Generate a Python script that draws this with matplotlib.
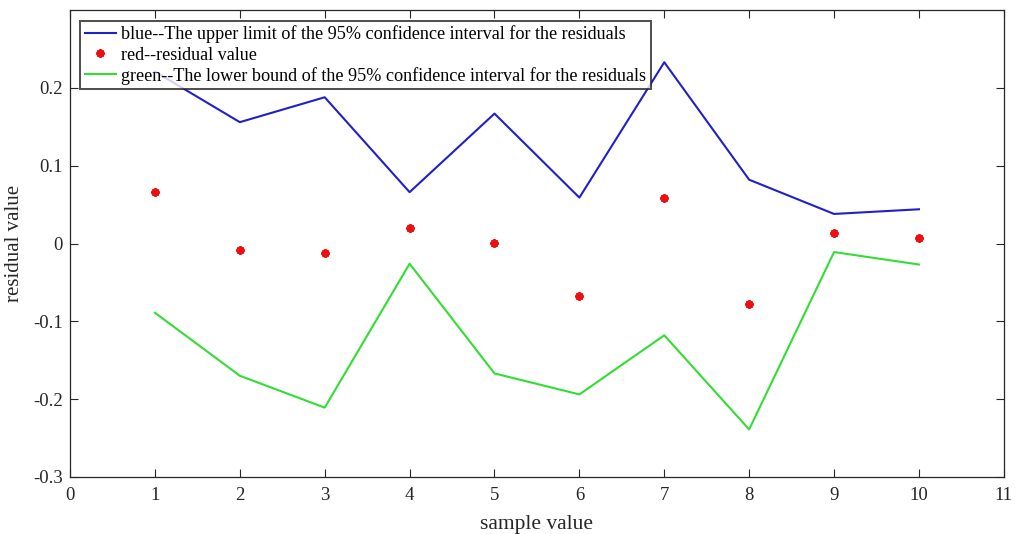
import matplotlib
matplotlib.use("Agg")
import matplotlib.pyplot as plt

samples = [1, 2, 3, 4, 5, 6, 7, 8, 9, 10]
upper_ci = [0.221, 0.156, 0.188, 0.066, 0.167, 0.059, 0.233, 0.082, 0.038, 0.044]
residuals = [0.066, -0.008, -0.0116, 0.020, 0.0005, -0.068, 0.058, -0.078, 0.0134, 0.0077]
lower_ci = [-0.089, -0.170, -0.211, -0.026, -0.167, -0.194, -0.118, -0.239, -0.011, -0.027]

xticks = list(range(0, 12))
yticks = [-0.3, -0.2, -0.1, 0, 0.1, 0.2]
ytick_labels = ["-0.3", "-0.2", "-0.1", "0", "0.1", "0.2"]

plt.rcParams["font.family"] = ["Liberation Serif", "DejaVu Serif"]

fig = plt.figure(figsize=(10.15, 5.34), dpi=100)
ax = fig.add_axes([0.069, 0.107, 0.920, 0.874])

ax.plot(samples, upper_ci, color="#2020c8", lw=1.5,
        label="blue--The upper limit of the 95% confidence interval for the residuals")
ax.plot(samples, residuals, ls="none", marker=(8, 2, 0), color="#ee1010",
        markersize=6, mew=1.6,
        label="red--residual value")
ax.plot(samples, lower_ci, color="#33dd33", lw=1.5,
        label="green--The lower bound of the 95% confidence interval for the residuals")

ax.set_xlim(0, 11)
ax.set_ylim(-0.3, 0.3)
ax.set_xticks(xticks)
ax.set_yticks(yticks)
ax.set_yticklabels(ytick_labels)
ax.tick_params(direction="in", length=6, width=0.8, colors="#262626",
               labelsize=13.5, top=True, right=True, pad=5)
ax.tick_params(axis="x", pad=7)
for s in ax.spines.values():
    s.set_color("#262626")
    s.set_linewidth(0.9)

ax.set_xlabel("sample value", fontsize=15.5, color="#262626", labelpad=8)
ax.set_ylabel("residual value", fontsize=15, color="#262626", labelpad=7)

leg = ax.legend(loc="upper left", bbox_to_anchor=(0.0107, 0.977), fontsize=13.1,
                frameon=True, fancybox=False, edgecolor="#202020",
                borderpad=0.25, labelspacing=0.18, handlelength=1.7,
                handletextpad=0.3, borderaxespad=0)
leg.get_frame().set_linewidth(1.4)

fig.savefig("out.png", dpi=100, facecolor="white")
